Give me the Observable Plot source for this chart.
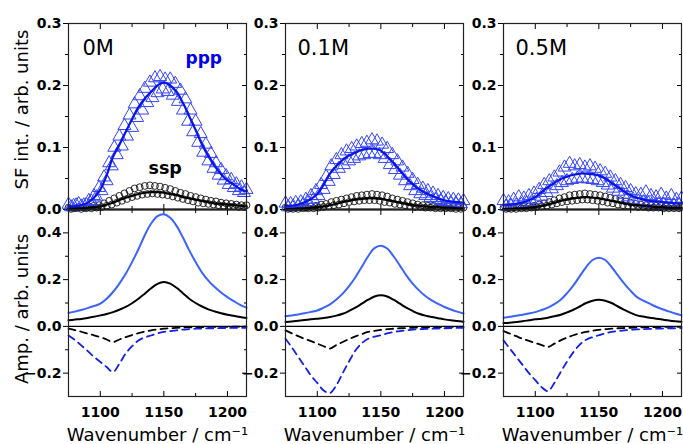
<!DOCTYPE html>
<html><head><meta charset="utf-8">
<script src="https://cdn.jsdelivr.net/npm/d3@7"></script>
<script src="https://cdn.jsdelivr.net/npm/@observablehq/plot@0.6"></script>
<style>
body{margin:0;background:#fff}
#chart{position:relative;width:683px;height:444px;overflow:hidden;background:#fff}
#chart svg{position:absolute}
</style>
</head><body><div id="chart"></div>
<script>
// ---------- categories / tick labels ----------
const concentrations = ["0M", "0.1M", "0.5M"];
const xMajorTicks = [1100, 1150, 1200];
const xMinorTicks = [1125, 1175];
const yTopMajor = [0, 0.1, 0.2, 0.3];
const yTopMinor = [0.05, 0.15, 0.25];
const yBotMajor = [-0.2, 0, 0.2, 0.4];
const yBotMinor = [-0.1, 0.1, 0.3];
const xTitle = "Wavenumber / cm⁻¹";
const yTopTitle = "SF int. / arb. units";
const yBotTitle = "Amp. / arb. units";

// ---------- wavenumber grids ----------
const ptsXA = [1075,1079,1083,1087,1091,1095,1099,1103,1107,1111,1115,1119,1123,1127,1131,1135,1139,1143,1147,1151,1155,1159,1163,1167,1171,1175,1179,1183,1187,1191,1195,1199,1203,1207,1211,1215];
const ptsXB = [1077,1081,1085,1089,1093,1097,1101,1105,1109,1113,1117,1121,1125,1129,1133,1137,1141,1145,1149,1153,1157,1161,1165,1169,1173,1177,1181,1185,1189,1193,1197,1201,1205,1209,1213];
const fineX = [1075,1080,1085,1090,1095,1100,1105,1110,1115,1120,1125,1130,1135,1140,1145,1150,1155,1160,1165,1170,1175,1180,1185,1190,1195,1200,1205,1210,1215];

// ---------- measured SF intensities (points) ----------
const ppp0A = [.008,.006,.009,.007,.014,.022,.035,.052,.075,.1,.118,.135,.152,.17,.183,.195,.205,.212,.214,.21,.21,.203,.192,.178,.16,.142,.122,.105,.09,.075,.064,.054,.048,.041,.036,.032];
const ppp0B = [.004,.007,.005,.008,.013,.02,.03,.046,.07,.088,.102,.118,.132,.148,.16,.172,.18,.188,.194,.19,.184,.174,.16,.142,.125,.108,.092,.078,.066,.055,.047,.04,.035,.03,.027];
const ssp0A = [.003,.002,.004,.003,.005,.006,.007,.01,.014,.018,.022,.026,.03,.034,.036,.038,.039,.038,.037,.035,.033,.03,.027,.025,.022,.02,.018,.016,.014,.013,.011,.01,.009,.008,.007,.007];
const ssp0B = [.001,.002,.001,.002,.002,.003,.004,.006,.008,.011,.014,.017,.02,.022,.024,.025,.026,.025,.024,.023,.021,.019,.017,.015,.013,.011,.01,.009,.008,.007,.006,.005,.005,.004,.004];

const ppp1A = [.01,.009,.011,.012,.016,.022,.03,.04,.053,.07,.08,.088,.094,.098,.102,.106,.108,.112,.11,.105,.098,.088,.078,.068,.058,.048,.04,.034,.03,.026,.022,.019,.017,.016,.015,.014];
const ppp1B = [.004,.005,.006,.008,.012,.016,.022,.032,.045,.056,.066,.072,.078,.082,.086,.088,.09,.09,.088,.082,.072,.064,.055,.046,.038,.03,.025,.022,.019,.016,.014,.012,.011,.01,.009];
const ssp1A = [.003,.002,.003,.004,.003,.005,.006,.008,.009,.012,.014,.016,.018,.02,.022,.023,.024,.025,.024,.023,.021,.018,.016,.014,.012,.01,.008,.007,.006,.006,.005,.005,.004,.004,.004,.003];
const ssp1B = [.001,.001,.001,.002,.002,.002,.003,.004,.005,.007,.008,.01,.012,.013,.014,.015,.015,.015,.014,.012,.011,.009,.008,.007,.005,.004,.004,.003,.003,.002,.002,.002,.002,.001,.001];

const ppp2A = [.014,.012,.016,.02,.018,.022,.026,.032,.04,.046,.052,.06,.068,.074,.07,.072,.068,.07,.066,.062,.058,.052,.046,.04,.035,.03,.025,.024,.028,.022,.02,.024,.018,.022,.016,.018];
const ppp2B = [.005,.006,.007,.008,.01,.012,.016,.021,.027,.033,.038,.043,.046,.048,.05,.05,.049,.048,.046,.043,.039,.034,.029,.024,.02,.016,.013,.012,.01,.009,.009,.008,.008,.007,.007];
const ssp2A = [.003,.002,.003,.004,.004,.005,.006,.008,.01,.012,.015,.018,.02,.023,.024,.025,.026,.025,.024,.023,.021,.019,.017,.015,.013,.011,.009,.008,.007,.007,.006,.006,.005,.005,.005,.004];
const ssp2B = [.001,.001,.001,.002,.002,.003,.004,.005,.006,.008,.01,.012,.013,.014,.015,.016,.016,.015,.014,.013,.011,.01,.008,.007,.006,.005,.004,.004,.003,.003,.003,.002,.002,.002,.002];

// ---------- fitted SF intensities ----------
const fitPpp0 = [.005,.005,.007,.011,.019,.032,.055,.085,.104,.125,.146,.165,.179,.19,.2,.205,.2,.19,.172,.15,.128,.105,.086,.07,.057,.047,.04,.033,.029];
const fitSsp0 = [.002,.002,.002,.003,.004,.005,.008,.011,.015,.019,.022,.025,.027,.028,.028,.027,.025,.023,.02,.018,.016,.014,.012,.01,.009,.008,.007,.006,.005];
const fitPpp1 = [.006,.006,.008,.012,.017,.025,.04,.058,.07,.08,.087,.092,.096,.098,.098,.095,.086,.075,.063,.051,.041,.033,.027,.022,.018,.015,.013,.012,.011];
const fitSsp1 = [.001,.001,.002,.002,.003,.004,.005,.007,.009,.012,.014,.016,.017,.018,.018,.017,.015,.013,.011,.009,.007,.006,.005,.004,.004,.003,.003,.002,.002];
const fitPpp2 = [.008,.008,.009,.011,.015,.02,.028,.036,.043,.049,.053,.056,.058,.058,.057,.055,.05,.043,.036,.029,.023,.019,.016,.014,.013,.012,.011,.01,.01];
const fitSsp2 = [.001,.001,.002,.002,.003,.004,.006,.008,.011,.014,.016,.018,.019,.02,.019,.018,.016,.014,.012,.01,.008,.007,.006,.005,.004,.004,.003,.003,.003];

// ---------- amplitudes (bottom row) ----------
const ampPppA0 = [.057,.063,.07,.078,.087,.097,.118,.147,.183,.225,.275,.33,.39,.44,.472,.48,.465,.43,.38,.325,.275,.23,.196,.168,.145,.125,.108,.092,.08];
const ampSspA0 = [.026,.029,.032,.036,.041,.047,.053,.061,.071,.083,.099,.118,.14,.163,.182,.19,.183,.165,.142,.118,.1,.085,.073,.064,.056,.05,.045,.04,.036];
const ampPppB0 = [-.039,-.058,-.081,-.105,-.13,-.152,-.174,-.195,-.16,-.116,-.085,-.06,-.047,-.039,-.03,-.024,-.02,-.017,-.014,-.012,-.01,-.009,-.008,-.008,-.007,-.007,-.006,-.006,-.006];
const ampSspB0 = [-.01,-.016,-.023,-.031,-.038,-.046,-.056,-.067,-.056,-.046,-.037,-.029,-.022,-.017,-.013,-.01,-.008,-.006,-.005,-.004,-.004,-.003,-.003,-.002,-.002,-.002,-.001,-.001,-.001];

const ampPppA1 = [.043,.047,.051,.056,.062,.068,.08,.094,.115,.14,.172,.21,.255,.3,.335,.345,.333,.3,.26,.218,.183,.154,.13,.111,.096,.083,.072,.063,.055];
const ampSspA1 = [.019,.021,.024,.027,.03,.033,.036,.04,.046,.054,.066,.08,.097,.114,.128,.133,.128,.114,.097,.08,.066,.054,.046,.04,.035,.03,.026,.023,.02];
const ampPppB1 = [-.053,-.09,-.13,-.17,-.21,-.242,-.274,-.285,-.252,-.2,-.15,-.103,-.072,-.053,-.044,-.038,-.03,-.024,-.02,-.017,-.014,-.012,-.011,-.01,-.009,-.008,-.007,-.006,-.006];
const ampSspB1 = [-.017,-.03,-.042,-.053,-.063,-.074,-.085,-.095,-.08,-.067,-.054,-.043,-.033,-.024,-.019,-.015,-.012,-.01,-.008,-.007,-.006,-.005,-.004,-.004,-.003,-.003,-.002,-.002,-.002];

const ampPppA2 = [.037,.041,.045,.05,.055,.061,.07,.08,.095,.114,.142,.175,.215,.254,.284,.294,.284,.254,.218,.183,.152,.125,.11,.097,.084,.073,.064,.055,.047];
const ampSspA2 = [.014,.016,.019,.022,.026,.03,.033,.037,.043,.05,.06,.071,.085,.1,.11,.114,.11,.1,.085,.071,.058,.047,.042,.037,.033,.029,.025,.022,.02];
const ampPppB2 = [-.06,-.095,-.13,-.165,-.2,-.23,-.26,-.277,-.242,-.195,-.15,-.11,-.078,-.057,-.046,-.038,-.03,-.024,-.02,-.017,-.015,-.013,-.012,-.011,-.01,-.009,-.008,-.008,-.007];
const ampSspB2 = [-.02,-.031,-.042,-.053,-.062,-.071,-.08,-.088,-.074,-.06,-.048,-.038,-.03,-.024,-.019,-.015,-.012,-.01,-.008,-.007,-.006,-.005,-.004,-.004,-.003,-.003,-.002,-.002,-.002];

// ---------- assemble ----------
const rows = (xs, ys) => ys.map((y, i) => ({x: xs[i], y}));
const panels = [
  {label: concentrations[0], pA: ppp0A, pB: ppp0B, sA: ssp0A, sB: ssp0B, fp: fitPpp0, fs: fitSsp0, ap: ampPppA0, as: ampSspA0, bp: ampPppB0, bs: ampSspB0},
  {label: concentrations[1], pA: ppp1A, pB: ppp1B, sA: ssp1A, sB: ssp1B, fp: fitPpp1, fs: fitSsp1, ap: ampPppA1, as: ampSspA1, bp: ampPppB1, bs: ampSspB1},
  {label: concentrations[2], pA: ppp2A, pB: ppp2B, sA: ssp2A, sB: ssp2B, fp: fitPpp2, fs: fitSsp2, ap: ampPppA2, as: ampSspA2, bp: ampPppB2, bs: ampSspB2}
];

const FONT = "DejaVu Sans";
const panelLeft = [68, 285, 503];
const PW = 178, ML = 68, MR = 6;
const tickFont = {fontWeight: "bold", fontSize: 14, fontFamily: FONT};
const fmtY = d3.format(".1f");
const fmtX = d3.format("d");
const triColor = "#3445ff";
const fitBlue = "#0a14e6";
const ampBlue = "#3d63ff";
const dashBlue = "#1020e8";

function frameTicks(yMajor, yMinor) {
  return [
    Plot.axisY(yMajor, {anchor: "left", tickSize: 5, tickPadding: 2, tickFormat: fmtY, label: null, ...tickFont}),
    Plot.axisY(yMinor, {anchor: "left", tickSize: 3, fill: "none"}),
    Plot.axisY(yMajor, {anchor: "right", tickSize: -5, fill: "none"}),
    Plot.axisY(yMinor, {anchor: "right", tickSize: -3, fill: "none"}),
    Plot.axisX(xMajorTicks, {anchor: "top", tickSize: -5, fill: "none"}),
    Plot.axisX(xMinorTicks, {anchor: "top", tickSize: -3, fill: "none"}),
    Plot.axisX(xMajorTicks, {anchor: "bottom", tickSize: -5, fill: "none"}),
    Plot.axisX(xMinorTicks, {anchor: "bottom", tickSize: -3, fill: "none"})
  ];
}

const chart = document.getElementById("chart");

panels.forEach((p, i) => {
  // ---- top row: SF intensity ----
  const top = Plot.plot({
    width: ML + PW + MR, height: 211,
    marginLeft: ML, marginRight: MR, marginTop: 23, marginBottom: 2,
    x: {domain: [1075, 1215], axis: null},
    y: {domain: [0, 0.3], axis: null},
    style: {background: "none", fontFamily: FONT, overflow: "visible", color: "black"},
    marks: [
      ...frameTicks(yTopMajor, yTopMinor),
      Plot.dot(rows(ptsXA, p.sA), {x: "x", y: "y", symbol: "circle", r: 3.4, stroke: "#111", strokeWidth: 0.9, fill: "none"}),
      Plot.dot(rows(ptsXB, p.sB), {x: "x", y: "y", symbol: "circle", r: 3.4, stroke: "#111", strokeWidth: 0.9, fill: "none"}),
      Plot.dot(rows(ptsXA, p.pA), {x: "x", y: "y", symbol: "triangle", r: 4.8, stroke: triColor, strokeWidth: 1, fill: "none"}),
      Plot.dot(rows(ptsXB, p.pB), {x: "x", y: "y", symbol: "triangle", r: 4.8, stroke: triColor, strokeWidth: 1, fill: "none"}),
      Plot.line(rows(fineX, p.fs), {x: "x", y: "y", stroke: "black", strokeWidth: 2.2, curve: "catmull-rom"}),
      Plot.line(rows(fineX, p.fp), {x: "x", y: "y", stroke: fitBlue, strokeWidth: 2.2, curve: "catmull-rom"}),
      Plot.frame({stroke: "#222", strokeWidth: 1.2}),
      Plot.ruleY([0], {stroke: "black", strokeWidth: 2.2}),
      Plot.text([p.label], {frameAnchor: "top-left", dx: i === 0 ? 14 : 12, dy: 17, lineAnchor: "top", textAnchor: "start", fontSize: 21, fontFamily: FONT}),
      i === 0 ? Plot.text(["ppp"], {frameAnchor: "top-left", dx: 117, dy: 28, lineAnchor: "top", textAnchor: "start", fontSize: 17, fontWeight: "bold", fill: "#0000ee", fontFamily: FONT}) : null,
      i === 0 ? Plot.text(["ssp"], {frameAnchor: "top-left", dx: 80, dy: 138, lineAnchor: "top", textAnchor: "start", fontSize: 17.5, fontWeight: "bold", fill: "black", fontFamily: FONT}) : null,
      i === 0 ? Plot.text([yTopTitle], {frameAnchor: "left", rotate: -90, dx: -46, dy: -7, lineAnchor: "middle", textAnchor: "middle", fontSize: 18, fontFamily: FONT}) : null
    ]
  });
  top.style.left = (panelLeft[i] - ML) + "px";
  top.style.top = "0px";
  chart.appendChild(top);

  // ---- bottom row: amplitudes ----
  const bot = Plot.plot({
    width: ML + PW + MR, height: 244,
    marginLeft: ML, marginRight: MR, marginTop: 9, marginBottom: 48,
    x: {domain: [1075, 1215], axis: null},
    y: {domain: [-0.3, 0.5], axis: null},
    style: {background: "none", fontFamily: FONT, overflow: "visible", color: "black"},
    marks: [
      ...frameTicks(yBotMajor, yBotMinor),
      Plot.axisX(xMajorTicks, {anchor: "bottom", tickSize: 0, tickPadding: 11, tickFormat: fmtX, label: null, ...tickFont}),
      Plot.ruleY([0], {stroke: "black", strokeWidth: 1.3}),
      Plot.line(rows(fineX, p.bs), {x: "x", y: "y", stroke: "black", strokeWidth: 1.8, strokeDasharray: "7,5", curve: "catmull-rom"}),
      Plot.line(rows(fineX, p.bp), {x: "x", y: "y", stroke: dashBlue, strokeWidth: 1.8, strokeDasharray: "7,5", curve: "catmull-rom"}),
      Plot.line(rows(fineX, p.as), {x: "x", y: "y", stroke: "black", strokeWidth: 2, curve: "catmull-rom"}),
      Plot.line(rows(fineX, p.ap), {x: "x", y: "y", stroke: ampBlue, strokeWidth: 2, curve: "catmull-rom"}),
      Plot.frame({stroke: "#222", strokeWidth: 1.2}),
      Plot.text([xTitle], {frameAnchor: "bottom", dy: 39, lineAnchor: "middle", textAnchor: "middle", fontSize: 18, fontFamily: FONT}),
      i === 0 ? Plot.text([yBotTitle], {frameAnchor: "left", rotate: -90, dx: -46, dy: 6, lineAnchor: "middle", textAnchor: "middle", fontSize: 18, fontFamily: FONT}) : null
    ]
  });
  bot.style.left = (panelLeft[i] - ML) + "px";
  bot.style.top = "200px";
  chart.appendChild(bot);
});
</script>
</body></html>
